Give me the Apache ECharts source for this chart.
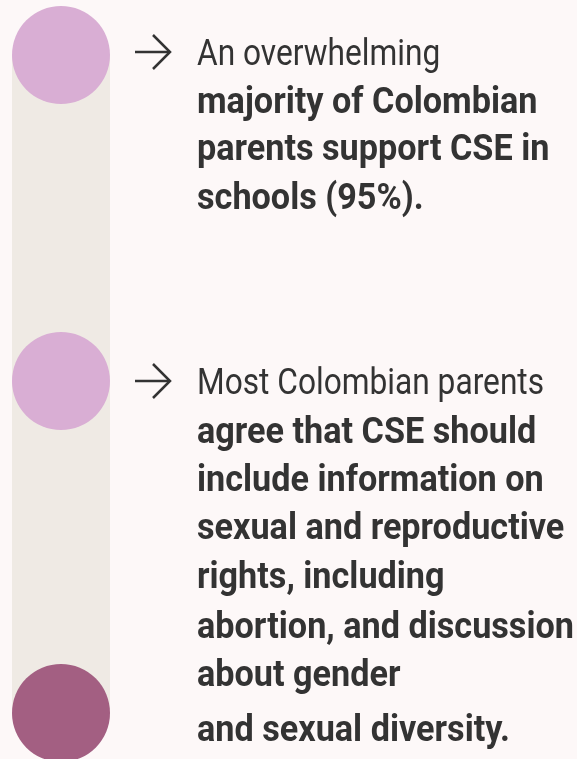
<!DOCTYPE html>
<html>
<head>
<meta charset="utf-8">
<script src="https://cdn.jsdelivr.net/npm/echarts@6/dist/echarts.min.js"></script>
<style>
  html, body { margin: 0; padding: 0; background: #fdf8f8; }
  #main { width: 577px; height: 759px; }
</style>
</head>
<body>
<div id="main"></div>
<script>
// timeline steps (vertical position of each dot)
const stepX = 61
const stepY = [55, 381, 713]
const stepColors = ['#d9aed4', '#d9aed4', '#a35f82']

// text blocks: [text, weight]
const block1 = [
  ['An overwhelming', 'r'],
  ['majority of Colombian', 'b'],
  ['parents support CSE in', 'b'],
  ['schools (95%).', 'b']
]
const block2 = [
  ['Most Colombian parents', 'r'],
  ['agree that CSE should', 'b'],
  ['include information on', 'b'],
  ['sexual and reproductive', 'b'],
  ['rights, including', 'b'],
  ['abortion, and discussion', 'b'],
  ['about gender', 'b'],
  ['and sexual diversity.', 'b']
]
const baselines1 = [64, 112, 159, 208]
const baselines2 = [393, 442, 490, 538, 587, 637, 685, 740]

const FONT = 'Roboto, "Noto Sans", sans-serif'
const FONT_SIZE = 36
const TEXT_X = 197
// the original face is a condensed one
const NARROW = { r: 0.88, b: 0.95 }

function textLines (lines, baselines) {
  return lines.map(function (l, i) {
    return {
      type: 'text',
      x: TEXT_X,
      y: baselines[i] - 26,
      scaleX: NARROW[l[1]],
      style: {
        text: l[0],
        fill: '#333333',
        font: (l[1] === 'b' ? 'bold ' : '') + FONT_SIZE + 'px ' + FONT
      }
    }
  })
}

function arrow (y) {
  return {
    type: 'group',
    children: [
      { type: 'line', shape: { x1: 135, y1: y, x2: 170, y2: y }, style: { stroke: '#333', lineWidth: 2.5 } },
      { type: 'polyline', shape: { points: [[153, y - 17], [170, y], [153, y + 17]] }, style: { stroke: '#333', lineWidth: 2.5, fill: null } }
    ]
  }
}

const chart = echarts.init(document.getElementById('main'))
chart.setOption({
  backgroundColor: '#fdf8f8',
  animation: false,
  grid: { left: 0, right: 0, top: 0, bottom: 0 },
  xAxis: { type: 'value', min: 0, max: 577, show: false },
  yAxis: { type: 'value', min: 0, max: 759, inverse: true, show: false },
  series: [
    {
      type: 'line',
      data: [[stepX, stepY[0]], [stepX, stepY[stepY.length - 1]]],
      symbol: 'none',
      lineStyle: { color: '#efeae4', width: 98, cap: 'butt' },
      z: 1
    },
    {
      type: 'scatter',
      symbolSize: 98,
      data: stepY.map(function (y, i) {
        return { value: [stepX, y], itemStyle: { color: stepColors[i], opacity: 1 } }
      }),
      z: 2
    }
  ],
  graphic: [arrow(52), arrow(381)]
    .concat(textLines(block1, baselines1))
    .concat(textLines(block2, baselines2))
})
</script>
</body>
</html>
